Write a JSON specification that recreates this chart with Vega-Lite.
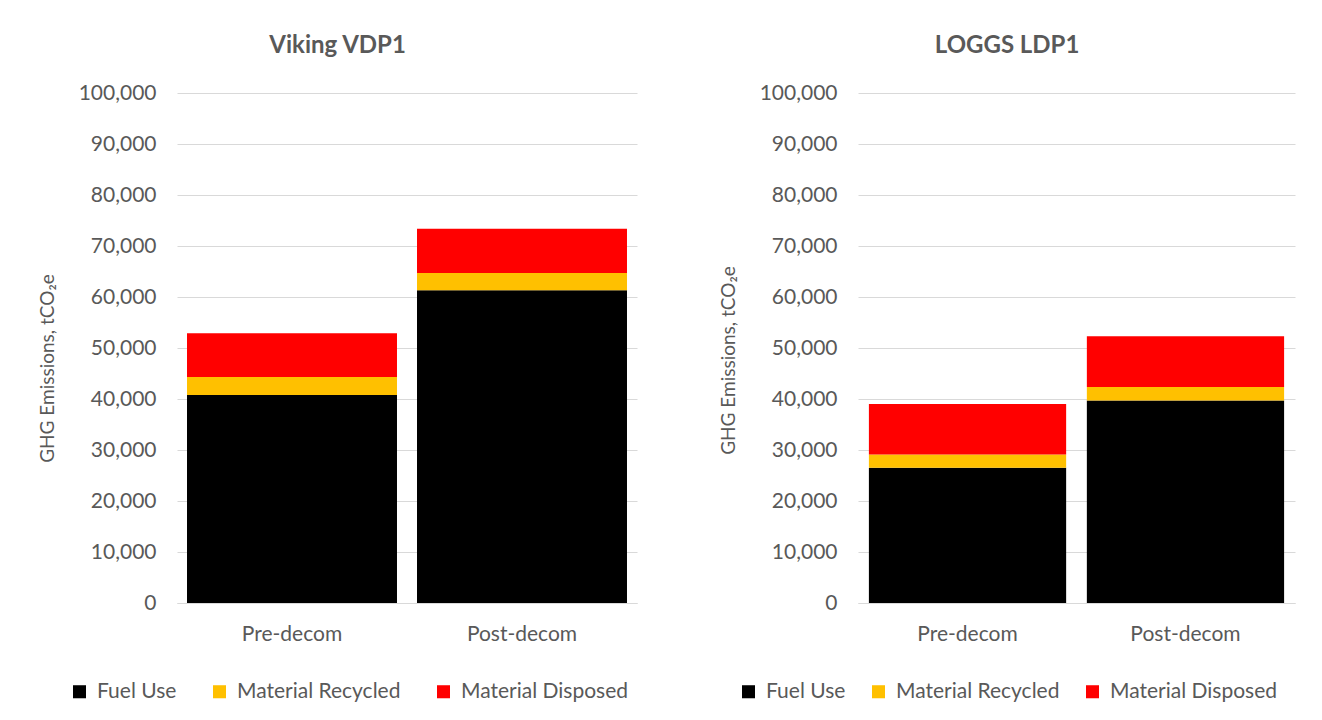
{
  "$schema": "https://vega.github.io/schema/vega-lite/v6.json",
  "background": "white",
  "padding": {"left": 38, "top": 34, "right": 5, "bottom": 5},
  "data": {"values": [
    {"panel": "Viking VDP1", "stage": "Pre-decom", "source": "Fuel Use", "value": 40800},
    {"panel": "Viking VDP1", "stage": "Pre-decom", "source": "Material Recycled", "value": 3500},
    {"panel": "Viking VDP1", "stage": "Pre-decom", "source": "Material Disposed", "value": 8600},
    {"panel": "Viking VDP1", "stage": "Post-decom", "source": "Fuel Use", "value": 61300},
    {"panel": "Viking VDP1", "stage": "Post-decom", "source": "Material Recycled", "value": 3400},
    {"panel": "Viking VDP1", "stage": "Post-decom", "source": "Material Disposed", "value": 8700},
    {"panel": "LOGGS LDP1", "stage": "Pre-decom", "source": "Fuel Use", "value": 26500},
    {"panel": "LOGGS LDP1", "stage": "Pre-decom", "source": "Material Recycled", "value": 2600},
    {"panel": "LOGGS LDP1", "stage": "Pre-decom", "source": "Material Disposed", "value": 9900},
    {"panel": "LOGGS LDP1", "stage": "Post-decom", "source": "Fuel Use", "value": 39700},
    {"panel": "LOGGS LDP1", "stage": "Post-decom", "source": "Material Recycled", "value": 2650},
    {"panel": "LOGGS LDP1", "stage": "Post-decom", "source": "Material Disposed", "value": 9950}
  ]},
  "transform": [
    {"calculate": "indexof(['Fuel Use','Material Recycled','Material Disposed'], datum.source)", "as": "ord"}
  ],
  "spacing": 82,
  "hconcat": [
    {
      "width": 460,
      "height": 510,
      "title": {"text": "Viking VDP1"},
      "transform": [{"filter": "datum.panel === 'Viking VDP1'"}],
      "mark": {"type": "bar"},
      "encoding": {
        "x": {"field": "stage", "type": "nominal", "sort": ["Pre-decom", "Post-decom"],
              "scale": {"paddingInner": 0.087, "paddingOuter": 0.0435}, "axis": {"title": null}},
        "y": {"field": "value", "type": "quantitative", "stack": "zero",
              "scale": {"domain": [0, 100000]},
              "axis": {"title": "GHG Emissions, tCO₂e", "titleY": 275, "values": [0,10000,20000,30000,40000,50000,60000,70000,80000,90000,100000], "format": ",.0f"}},
        "color": {"field": "source", "type": "nominal",
                  "scale": {"domain": ["Fuel Use", "Material Recycled", "Material Disposed"], "range": ["#000000", "#FFC000", "#FF0000"]},
                  "legend": {"orient": "none", "legendX": -108, "legendY": 588, "columnPadding": 32}},
        "order": {"field": "ord", "type": "quantitative", "sort": "ascending"}
      }
    },
    {
      "width": 437,
      "height": 510,
      "title": {"text": "LOGGS LDP1"},
      "transform": [{"filter": "datum.panel === 'LOGGS LDP1'"}],
      "mark": {"type": "bar"},
      "encoding": {
        "x": {"field": "stage", "type": "nominal", "sort": ["Pre-decom", "Post-decom"],
              "scale": {"paddingInner": 0.095, "paddingOuter": 0.05}, "axis": {"title": null}},
        "y": {"field": "value", "type": "quantitative", "stack": "zero",
              "scale": {"domain": [0, 100000]},
              "axis": {"title": "GHG Emissions, tCO₂e", "titleY": 267, "values": [0,10000,20000,30000,40000,50000,60000,70000,80000,90000,100000], "format": ",.0f"}},
        "color": {"field": "source", "type": "nominal",
                  "scale": {"domain": ["Fuel Use", "Material Recycled", "Material Disposed"], "range": ["#000000", "#FFC000", "#FF0000"]},
                  "legend": {"orient": "none", "legendX": -120, "legendY": 588, "columnPadding": 22}},
        "order": {"field": "ord", "type": "quantitative", "sort": "ascending"}
      }
    }
  ],
  "resolve": {"scale": {"color": "independent"}},
  "config": {
    "font": "Lato",
    "view": {"stroke": null},
    "title": {"fontSize": 24, "fontWeight": "bold", "color": "#595959", "anchor": "middle", "frame": "bounds", "offset": 24},
    "axis": {"labelFont": "Lato", "labelFontSize": 21, "labelColor": "#595959", "ticks": false,
             "gridColor": "#d9d9d9", "domainColor": "#d9d9d9", "titleFont": "Lato", "titleFontSize": 19, "titleFontWeight": "normal", "titleColor": "#595959"},
    "axisY": {"domain": false, "grid": true, "labelPadding": 21, "titlePadding": 21},
    "axisX": {"domain": true, "grid": false, "labelAngle": 0, "labelPadding": 20},
    "legend": {"title": null, "direction": "horizontal", "symbolType": "square", "symbolSize": 170,
               "symbolStrokeWidth": 0, "labelFontSize": 21, "labelColor": "#595959", "labelFont": "Lato",
               "labelOffset": 7, "labelLimit": 400}
  }
}
